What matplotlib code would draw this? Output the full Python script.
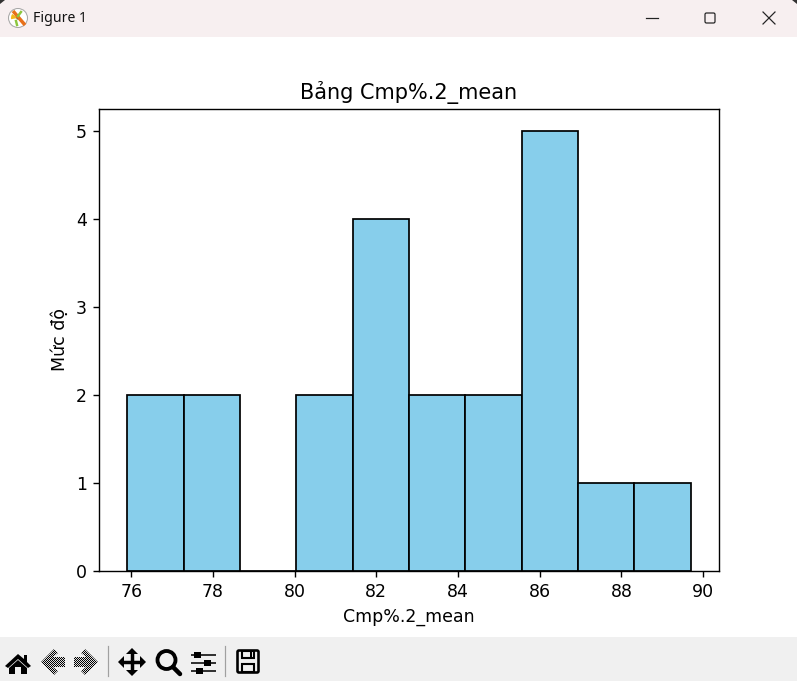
import numpy as np
import matplotlib
matplotlib.use("Agg")
import matplotlib.pyplot as plt
from matplotlib.patches import Circle, FancyBboxPatch, Polygon, Rectangle, Wedge

values = [75.9, 76.8, 77.6, 78.3, 80.5, 81.1, 81.7, 82.0, 82.2, 82.6,
          83.1, 83.9, 84.6, 85.2, 85.8, 86.0, 86.3, 86.5, 86.8, 87.6, 89.7]
n_bins = 10
x_label = "Cmp%.2_mean"
y_label = "Mức độ"
title = "Bảng Cmp%.2_mean"
window_title = "Figure 1"

W, H = 797, 681
DPI = 125


def draw_arrow(ax, x0, x1, direction):
    # toolbar back / forward arrows, dithered like the Tk icons
    w = x1 - x0
    pts = np.array([[0, 13], [13, 0], [17, 4], [12, 8], [24, 8], [24, 18], [12, 18], [17, 22], [13, 26]],
                   dtype=float)
    pts[:, 0] *= w / 24
    if direction > 0:
        pts[:, 0] = w - pts[:, 0]
    pts[:, 0] += x0
    pts[:, 1] += 649
    yy, xx = np.indices((H, W))
    board = (xx + yy) % 2
    im = ax.imshow(board, cmap="gray", vmin=0, vmax=1.15, extent=(0, W, H, 0),
                   interpolation="nearest", aspect="auto", zorder=3)
    poly = Polygon(pts, closed=True, transform=ax.transData, fc="none", ec="none")
    ax.add_patch(poly)
    im.set_clip_path(poly)


def draw_chrome(fig):
    ax = fig.add_axes([0, 0, 1, 1], zorder=5)
    ax.patch.set_alpha(0)
    ax.axis("off")

    ax.add_patch(Rectangle((0, 0), W, 37, fc="#f7eff0", ec="none"))
    ax.add_patch(Rectangle((0, 637), W, 44, fc="#f0f0f0", ec="none"))

    # window corners
    ax.add_patch(Polygon([[0, 0], [5, 0], [0, 4]], fc="#333333", ec="none"))
    ax.add_patch(Polygon([[W, 0], [W - 5, 0], [W, 4]], fc="#333333", ec="none"))

    # window icon
    ax.add_patch(Circle((18, 18), 9.5, fc="white", ec="#a8a8a8", lw=0.6))
    ax.plot([13, 25], [11, 25], color="#e8701a", lw=2.0, solid_capstyle="butt")
    ax.add_patch(Wedge((18, 18), 7, 170, 215, fc="#f2b81c", ec="none"))
    ax.plot([18, 21], [16, 12], color="#8cc63f", lw=1.4)
    ax.plot([16, 17], [21, 25], color="#8cc63f", lw=1.4)
    ax.add_patch(Circle((18, 18), 1.5, fc="#222222", ec="none"))
    ax.text(33, 19, window_title, family="Noto Sans", fontsize=8.1, color="#111111",
            ha="left", va="center")

    # window buttons
    ax.plot([646, 658], [18, 18], color="#222222", lw=0.7)
    ax.add_patch(FancyBboxPatch((705, 13), 10, 10, boxstyle="round,pad=0,rounding_size=1.5",
                                fc="none", ec="#222222", lw=0.7))
    ax.plot([763, 775], [12, 24], color="#222222", lw=0.7)
    ax.plot([763, 775], [24, 12], color="#222222", lw=0.7)

    # home
    ax.add_patch(Polygon([[18, 654], [5, 666], [8, 668], [18, 659], [28, 668], [31, 666],
                          [27, 662], [27, 655], [24, 655], [24, 659]], fc="black", ec="none"))
    ax.add_patch(Polygon([[9, 668], [18, 660], [27, 668], [27, 674], [21, 674], [21, 667],
                          [15, 667], [15, 674], [9, 674]], fc="black", ec="none"))

    draw_arrow(ax, 41, 65, -1)
    draw_arrow(ax, 74, 98, 1)

    for sep_x in (108.5, 225.5):
        ax.plot([sep_x, sep_x], [646, 676], color="#a0a0a0", lw=0.7)

    # move
    ax.plot([122, 142], [662, 662], color="black", lw=2.0, solid_capstyle="butt")
    ax.plot([132, 132], [652, 672], color="black", lw=2.0, solid_capstyle="butt")
    ax.add_patch(Polygon([[118, 662], [124, 656], [124, 668]], fc="black", ec="none"))
    ax.add_patch(Polygon([[146, 662], [140, 656], [140, 668]], fc="black", ec="none"))
    ax.add_patch(Polygon([[132, 648], [126, 654], [138, 654]], fc="black", ec="none"))
    ax.add_patch(Polygon([[132, 676], [126, 670], [138, 670]], fc="black", ec="none"))

    # zoom
    ax.add_patch(Circle((166.5, 660), 9, fc="none", ec="black", lw=2.2))
    ax.plot([173, 180], [667, 674], color="black", lw=2.6, solid_capstyle="round")

    # sliders
    for y, kx in ((654.5, 198), (662.5, 208), (670.5, 200)):
        ax.plot([191, 216], [y, y], color="black", lw=0.9, solid_capstyle="butt")
        ax.add_patch(Rectangle((kx - 3.5, y - 3), 7, 6, fc="black", ec="none"))

    # save
    ax.add_patch(FancyBboxPatch((237.5, 650.5), 21, 22, boxstyle="round,pad=0,rounding_size=1.5",
                                fc="none", ec="black", lw=1.5))
    ax.add_patch(Rectangle((242, 651), 12, 7, fc="none", ec="black", lw=1.2))
    ax.add_patch(Rectangle((250, 652), 2.5, 4.5, fc="black", ec="none"))
    ax.add_patch(Rectangle((242, 664), 12, 8, fc="none", ec="black", lw=1.2))

    ax.set_xlim(0, W)
    ax.set_ylim(H, 0)


fig = plt.figure(figsize=(W / DPI, H / DPI), dpi=DPI)
ax = fig.add_axes([99 / W, 1 - 571 / H, 620 / W, 462 / H])
ax.hist(values, bins=n_bins, color="skyblue", edgecolor="black")
ax.set_title(title)
ax.set_xlabel(x_label)
ax.set_ylabel(y_label)

draw_chrome(fig)
fig.savefig("out.png", dpi=DPI)
